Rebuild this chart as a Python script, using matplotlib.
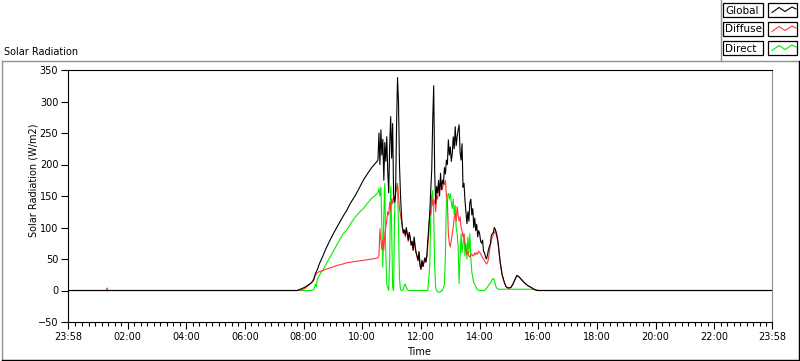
import numpy as np
import matplotlib
matplotlib.use('Agg')
import matplotlib.pyplot as plt
from matplotlib.patches import Rectangle

plt.rcParams['font.family'] = ['DejaVu Sans']
plt.rcParams['font.size'] = 7

# sample times, minutes after midnight
minutes_early = [-2, 76, 78, 80, 462, 466, 470, 476, 482, 488, 494, 498, 500, 502, 504, 506, 508,
                 512, 516, 520, 526, 534, 542, 550, 560, 568, 576, 585, 594, 602, 612, 620, 628, 632]
minutes_day = list(range(634, 902, 2))
minutes_late = [904, 908, 912, 916, 920, 926, 932, 938, 945, 951, 957, 962, 1438]

# Global (W/m2)
global_early = [0, 0, 0, 0, 0, 0, 1, 3, 5, 8, 11, 14, 16, 20, 27, 30, 33,
                42, 49, 56, 67, 80, 92, 103, 117, 127, 139, 150, 163, 175, 187, 196, 203, 207]
global_day = [250, 200, 255, 215, 240, 175, 235, 205, 244, 190,    # 634-652
              155, 230, 276, 210, 265, 154, 140, 150, 260, 338,    # 654-672
              300, 200, 154, 120, 101, 92, 96, 88, 100, 90,        # 674-692
              80, 92, 84, 72, 78, 64, 85, 70, 60, 55,              # 694-712
              48, 62, 40, 34, 48, 38, 45, 52, 45, 55,              # 714-732
              80, 100, 122, 160, 191, 270, 325, 190, 138, 165,     # 734-752
              155, 175, 150, 186, 160, 175, 170, 195, 185, 207,    # 754-772
              200, 239, 215, 228, 205, 217, 244, 225, 260, 230,    # 774-792
              244, 255, 263, 220, 207, 233, 164, 170, 143, 125,    # 794-812
              106, 125, 110, 140, 145, 120, 130, 100, 115, 95,     # 814-832
              105, 85, 95, 90, 78, 75, 80, 62, 60, 53,             # 834-852
              50, 56, 65, 70, 74, 88, 90, 92, 100, 97,             # 854-872
              92, 85, 75, 60, 45, 35, 25, 20, 14, 10,              # 874-892
              6, 5, 4, 4]                                          # 894-900
global_late = [5, 10, 17, 24, 22, 17, 12, 8, 5, 2, 0, 0, 0]

# Diffuse (W/m2)
diffuse_early = [0, 0, 4, 0, 0, 0, 0, 1, 3, 7, 11, 15, 18, 22, 24, 27, 28,
                 30, 31, 32, 34, 36, 38, 40, 42, 44, 45, 46, 47, 48, 49, 50, 51, 52]
diffuse_day = [55, 98, 80, 65, 80, 64, 90, 100, 111, 125,          # 634-652
               120, 140, 127, 145, 138, 150, 140, 155, 160, 170,   # 654-672
               150, 130, 120, 110, 99, 90, 96, 85, 98, 88,         # 674-692
               78, 92, 82, 72, 76, 64, 83, 68, 60, 53,             # 694-712
               47, 60, 40, 33, 46, 38, 44, 50, 45, 53,             # 714-732
               72, 90, 127, 120, 149, 135, 145, 140, 125, 150,     # 734-752
               145, 165, 160, 170, 165, 160, 172, 168, 175, 150,   # 754-772
               143, 90, 75, 69, 80, 90, 101, 115, 122, 110,        # 774-792
               133, 120, 110, 117, 100, 95, 85, 90, 75, 64,        # 794-812
               58, 62, 55, 53, 56, 58, 55, 55, 60, 57,             # 814-832
               60, 58, 62, 61, 58, 55, 52, 50, 47, 45,             # 834-852
               42, 44, 50, 62, 72, 80, 85, 88, 92, 95,             # 854-872
               88, 82, 72, 58, 45, 35, 25, 19, 14, 10,             # 874-892
               6, 5, 4, 4]                                         # 894-900
diffuse_late = [5, 10, 17, 23, 22, 17, 12, 8, 5, 2, 0, 0, 0]

# Direct (W/m2)
direct_early = [0, 0, -1, 0, 0, 0, 0, 0, 0, 0, 0, 1, 1, 4, 10, 6, 18,
                24, 29, 33, 42, 53, 64, 75, 89, 96, 106, 116, 124, 130, 140, 147, 152, 155]
direct_day = [162, 150, 164, 100, 37, 120, 170, 60, 10, 5,         # 634-652
              0, 50, 165, 100, 5, 0, 120, 170, 160, 165,           # 654-672
              100, 20, 2, 0, 0, 2, 8, 10, 5, 2,                    # 674-692
              0, 0, 0, 0, 0, 0, 0, 0, 0, 0,                        # 694-712
              0, 0, 0, 0, 0, 0, 0, 0, 0, 0,                        # 714-732
              0, 20, 40, 117, 150, 159, 120, 40, 5, 0,             # 734-752
              -2, -2, -3, -2, 0, 0, 5, 10, 60, 143,                # 754-772
              150, 154, 145, 154, 140, 130, 145, 120, 135, 100,    # 774-792
              90, 69, 11, 53, 90, 60, 75, 90, 55, 75,              # 794-812
              50, 85, 60, 90, 50, 29, 20, 12, 10, 6,               # 814-832
              3, 1, 0, 0, 0, 0, 0, 0, 0, 2,                        # 834-852
              3, 5, 8, 10, 12, 15, 18, 19, 17, 10,                 # 854-872
              5, 3, 2, 2, 2, 2, 2, 2, 2, 2,                        # 874-892
              2, 2, 2, 2]                                          # 894-900
direct_late = [2, 2, 2, 2, 2, 2, 2, 2, 2, 2, 1, 0, 0]

minutes = np.array(minutes_early + minutes_day + minutes_late)
global_w = np.array(global_early + global_day + global_late)
diffuse_w = np.array(diffuse_early + diffuse_day + diffuse_late)
direct_w = np.array(direct_early + direct_day + direct_late)

hour_ticks = [-2, 120, 240, 360, 480, 600, 720, 840, 960, 1080, 1200, 1320, 1438]
hour_labels = ['23:58', '02:00', '04:00', '06:00', '08:00', '10:00', '12:00',
               '14:00', '16:00', '18:00', '20:00', '22:00', '23:58']
series_names = ['Global', 'Diffuse', 'Direct']
series_colors = ['black', '#ff3838', '#00ee00']


# Plotting

fig = plt.figure(figsize=(8, 3.61), dpi=100)
ax = fig.add_axes([68 / 800, 1 - 322 / 361, 704 / 800, 252 / 361])

# direct first, global last so the black baseline sits on top
for w, c, z in zip([global_w, diffuse_w, direct_w], series_colors, [3, 2, 1]):
    ax.plot(minutes, w, color=c, lw=0.8, zorder=z)

ax.set_xlim(-2, 1438)
ax.set_ylim(-50, 350)
ax.set_yticks(range(-50, 351, 50))
ax.set_xticks(hour_ticks)
ax.set_xticklabels(hour_labels)
minor = [m for m in np.arange(0, 1438, 40 / 3) if min(abs(m - h) for h in hour_ticks) > 3]
ax.set_xticks(minor, minor=True)
ax.tick_params(axis='both', which='major', length=5, width=0.8, pad=2, labelsize=7)
ax.tick_params(axis='x', which='minor', length=3, width=0.8)

for s in ['left', 'bottom', 'top']:
    ax.spines[s].set_linewidth(0.8)
    ax.spines[s].set_color('black')
ax.spines['right'].set_color('#909090')
ax.spines['right'].set_linewidth(0.8)

fig.text(4 / 800, 1 - 52 / 361, 'Solar Radiation', fontsize=7, ha='left', va='center')
fig.text(34 / 800, 1 - 180 / 361, 'Solar Radiation (W/m2)', fontsize=7, rotation=90,
         ha='center', va='center')
fig.text(419 / 800, 1 - 352 / 361, 'Time', fontsize=7, ha='center', va='center')

# frame and legend drawn in pixel coordinates
deco = fig.add_axes([0, 0, 1, 1], zorder=5)
deco.set_xlim(0, 800)
deco.set_ylim(361, 0)
deco.axis('off')

deco.plot([2, 800], [61, 61], color='#909090', lw=1)
deco.plot([2, 2], [61, 361], color='#909090', lw=1)
deco.plot([721, 721], [0, 61], color='#909090', lw=1)
deco.plot([2, 799], [359.5, 359.5], color='black', lw=1)
deco.plot([799, 799], [61, 359.5], color='black', lw=1)

zig_x = np.array([772, 779, 785, 792, 796])
zig_y = np.array([2.5, -2.5, 1.5, -3, -1])
for i, (name, c) in enumerate(zip(series_names, series_colors)):
    top = 3 + i * 19
    deco.add_patch(Rectangle((723, top), 40, 14, fill=False, ec='black', lw=0.9))
    deco.add_patch(Rectangle((768, top), 29, 14, fill=False, ec='black', lw=0.9))
    deco.text(725, top + 7.5, name, fontsize=7.5, ha='left', va='center')
    deco.plot(zig_x, top + 7 + zig_y, color=c, lw=0.8)

fig.savefig('out.png', dpi=100)
